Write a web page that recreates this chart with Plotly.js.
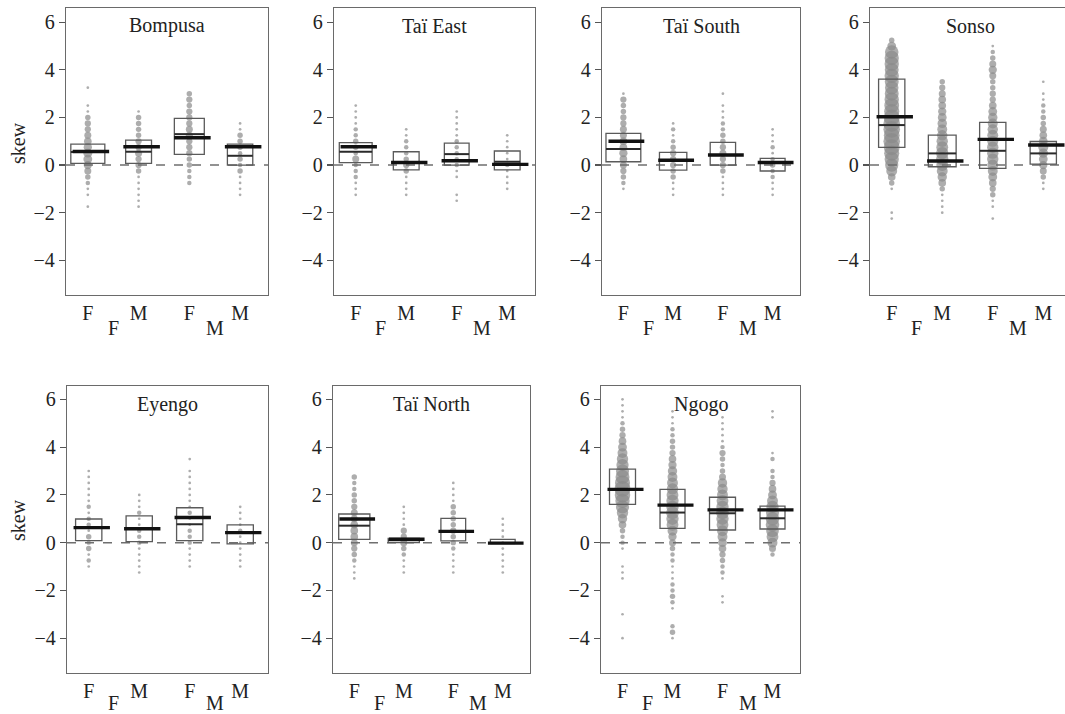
<!DOCTYPE html>
<html><head><meta charset="utf-8">
<script src="https://cdn.plot.ly/plotly-3.0.1.min.js"></script>
<style>html,body{margin:0;padding:0;background:#fff}#chart{width:1065px;height:714px}</style>
</head><body><div id="chart"></div>
<script>
const sites = ['Bompusa', 'Taï East', 'Taï South', 'Sonso', 'Eyengo', 'Taï North', 'Ngogo'];
const tickLabels = ['F', 'M', 'F', 'M'];
const outerLabels = ['F', 'M'];
const yTicks = [-4, -2, 0, 2, 4, 6];
const yTitle = 'skew';

// box lower edge, upper edge, median, mean per site (4 groups each)
const boxLow = [[0.07,0.07,0.45,0.0],[0.1,-0.2,0.0,-0.2],[0.14,-0.21,0.0,-0.25],[0.74,-0.07,-0.14,0.04],[0.08,0.04,0.08,-0.05],[0.14,0.0,0.07,-0.03],[1.6,0.6,0.53,0.57]];
const boxHigh = [[0.88,1.05,1.96,0.88],[0.94,0.56,0.92,0.59],[1.33,0.53,0.95,0.28],[3.61,1.26,1.79,0.99],[0.99,1.12,1.46,0.74],[1.2,0.18,1.02,0.14],[3.08,2.23,1.9,1.53]];
const medians = [[0.55,0.56,1.3,0.39],[0.56,0.1,0.46,0.14],[0.67,0.21,0.42,0.11],[1.68,0.49,0.6,0.49],[0.63,0.57,0.77,0.42],[0.71,0.1,0.46,-0.02],[2.24,1.26,1.23,1.02]];
const means = [[0.57,0.77,1.15,0.77],[0.77,0.11,0.18,0.03],[1.0,0.2,0.42,0.11],[2.03,0.17,1.08,0.84],[0.63,0.58,1.05,0.42],[0.99,0.14,0.47,-0.02],[2.23,1.57,1.37,1.37]];
const boxWidths = [[0.67,0.51,0.59,0.5],[0.65,0.51,0.49,0.51],[0.7,0.55,0.51,0.5],[0.52,0.55,0.52,0.52],[0.52,0.52,0.52,0.52],[0.63,0.63,0.5,0.5],[0.52,0.5,0.52,0.5]];

// dots: [skew value, count] per group (FF, MF, FM, MM)
const dotsBompusa = [
 [[3.25,1],[2.5,1],[2.25,1],[2.0,3],[1.75,4],[1.5,4],[1.25,5],[1.0,6],[0.75,7],[0.5,8],[0.25,8],[0,7],[-0.25,5],[-0.5,3],[-0.75,2],[-1.0,1],[-1.25,1],[-1.75,1]],
 [[2.25,1],[2.0,3],[1.75,3],[1.5,3],[1.25,3],[1.0,4],[0.75,4],[0.5,5],[0.25,4],[0,4],[-0.25,3],[-0.5,1],[-0.75,1],[-1.0,1],[-1.25,1],[-1.5,1],[-1.75,1]],
 [[3.0,3],[2.75,4],[2.5,3],[2.25,4],[2.0,4],[1.75,4],[1.5,5],[1.25,5],[1.0,4],[0.75,4],[0.5,4],[0.25,3],[0,3],[-0.25,2],[-0.5,2],[-0.75,2]],
 [[1.75,1],[1.5,1],[1.25,3],[1.0,3],[0.75,3],[0.5,2],[0.25,3],[0,2],[-0.25,3],[-0.5,1],[-0.75,1],[-1.0,1],[-1.25,1]]
];
const dotsTaiEast = [
 [[2.5,1],[2.25,1],[2.0,1],[1.75,1],[1.5,2],[1.25,2],[1.0,3],[0.75,3],[0.5,2],[0.25,5],[0,2],[-0.25,2],[-0.5,2],[-0.75,1],[-1.0,1],[-1.25,1]],
 [[1.5,1],[1.25,1],[1.0,2],[0.75,2],[0.5,2],[0.25,3],[0,4],[-0.25,3],[-0.5,1],[-0.75,1],[-1.0,1],[-1.25,1]],
 [[2.25,1],[2.0,1],[1.75,1],[1.5,1],[1.25,1],[1.0,2],[0.75,2],[0.5,2],[0.25,2],[0,2],[-0.25,1],[-0.5,1],[-1.25,1],[-1.5,1]],
 [[1.25,1],[1.0,1],[0.75,1],[0.5,1],[0.25,1],[0,2],[-0.25,1],[-0.5,1],[-0.75,1],[-1.0,1]]
];
const dotsTaiSouth = [
 [[3.0,1],[2.75,4],[2.5,3],[2.25,3],[2.0,4],[1.75,4],[1.5,5],[1.25,5],[1.0,6],[0.75,6],[0.5,7],[0.25,6],[0,5],[-0.25,4],[-0.5,3],[-0.75,2],[-1.0,1]],
 [[1.75,1],[1.5,2],[1.25,1],[1.0,2],[0.75,3],[0.5,4],[0.25,4],[0,4],[-0.25,3],[-0.5,3],[-0.75,1],[-1.0,1],[-1.25,1]],
 [[3.0,1],[2.5,1],[2.25,1],[2.0,1],[1.75,2],[1.5,2],[1.25,3],[1.0,3],[0.75,4],[0.5,5],[0.25,4],[0,4],[-0.25,3],[-0.5,1],[-0.75,1],[-1.0,1],[-1.25,1]],
 [[1.5,1],[1.25,1],[1.0,1],[0.75,2],[0.5,1],[0.25,2],[0,3],[-0.25,2],[-0.5,2],[-0.75,1],[-1.0,1],[-1.25,1]]
];
const dotsSonso = [
 [[5.25,3],[5.0,8],[4.75,18],[4.5,20],[4.25,20],[4.0,19],[3.75,20],[3.5,19],[3.25,18],[3.0,19],[2.75,20],[2.5,21],[2.25,22],[2.0,24],[1.75,26],[1.5,26],[1.25,24],[1.0,26],[0.75,24],[0.5,22],[0.25,20],[0,17],[-0.25,12],[-0.5,6],[-0.75,3],[-1.0,1],[-2.0,1],[-2.25,1]],
 [[3.5,3],[3.25,4],[3.0,5],[2.75,6],[2.5,6],[2.25,7],[2.0,8],[1.75,9],[1.5,10],[1.25,11],[1.0,13],[0.75,14],[0.5,15],[0.25,15],[0,14],[-0.25,12],[-0.5,9],[-0.75,6],[-1.0,3],[-1.25,1],[-1.5,1],[-1.75,1],[-2.0,1]],
 [[5.0,1],[4.75,2],[4.5,3],[4.25,5],[4.0,7],[3.75,5],[3.5,3],[3.25,3],[3.0,4],[2.75,4],[2.5,6],[2.25,8],[2.0,9],[1.75,10],[1.5,11],[1.25,12],[1.0,12],[0.75,13],[0.5,13],[0.25,13],[0,12],[-0.25,10],[-0.5,8],[-0.75,6],[-1.0,4],[-1.25,3],[-1.5,1],[-1.75,1],[-2.25,1]],
 [[3.5,1],[3.0,1],[2.75,1],[2.5,2],[2.25,2],[2.0,3],[1.75,3],[1.5,5],[1.25,6],[1.0,8],[0.75,10],[0.5,9],[0.25,8],[0,7],[-0.25,5],[-0.5,3],[-0.75,1],[-1.0,1]]
];
const dotsEyengo = [
 [[3.0,1],[2.75,1],[2.5,1],[2.25,1],[2.0,1],[1.75,1],[1.5,2],[1.25,1],[1.0,2],[0.75,2],[0.5,1],[0.25,3],[0,2],[-0.25,3],[-0.5,1],[-0.75,2],[-1.0,1]],
 [[2.0,1],[1.75,1],[1.5,1],[1.25,2],[1.0,1],[0.75,1],[0.5,2],[0.25,2],[0,2],[-0.25,1],[-0.5,1],[-0.75,1],[-1.0,1],[-1.25,1]],
 [[3.5,1],[3.0,1],[2.75,1],[2.5,1],[2.25,1],[2.0,1],[1.75,1],[1.5,1],[1.25,2],[1.0,1],[0.75,1],[0.5,2],[0.25,2],[0,2],[-0.25,1],[-0.5,1],[-0.75,1],[-1.0,1]],
 [[1.5,1],[1.25,1],[1.0,1],[0.75,1],[0.5,2],[0.25,1],[0,1],[-0.25,1],[-0.5,1],[-0.75,1],[-1.0,1]]
];
const dotsTaiNorth = [
 [[2.75,3],[2.5,2],[2.25,2],[2.0,3],[1.75,3],[1.5,4],[1.25,5],[1.0,5],[0.75,6],[0.5,6],[0.25,6],[0,5],[-0.25,4],[-0.5,3],[-0.75,2],[-1.0,1],[-1.25,1],[-1.5,1]],
 [[1.5,1],[1.25,1],[1.0,1],[0.75,1],[0.5,4],[0.25,4],[0,5],[-0.25,3],[-0.5,2],[-0.75,1],[-1.0,1],[-1.25,1]],
 [[2.5,1],[2.25,1],[2.0,1],[1.75,1],[1.5,3],[1.25,3],[1.0,3],[0.75,3],[0.5,4],[0.25,3],[0,3],[-0.25,2],[-0.5,1],[-0.75,1],[-1.0,1],[-1.25,1]],
 [[1.0,1],[0.75,1],[0.5,1],[0.25,1],[0,1],[-0.25,1],[-0.5,1],[-0.75,1],[-1.0,1],[-1.25,1]]
];
const dotsNgogo = [
 [[6.0,1],[5.75,1],[5.5,1],[5.25,1],[5.0,2],[4.75,3],[4.5,4],[4.25,6],[4.0,8],[3.75,10],[3.5,13],[3.25,15],[3.0,17],[2.75,19],[2.5,22],[2.25,24],[2.0,23],[1.75,20],[1.5,17],[1.25,13],[1.0,9],[0.75,6],[0.5,3],[0.25,2],[0,2],[-0.25,1],[-1.0,1],[-1.25,1],[-1.5,1],[-3.0,1],[-4.0,1]],
 [[5.5,1],[5.25,1],[5.0,1],[4.75,2],[4.5,2],[4.25,3],[4.0,3],[3.75,4],[3.5,6],[3.25,7],[3.0,9],[2.75,10],[2.5,12],[2.25,13],[2.0,14],[1.75,15],[1.5,15],[1.25,16],[1.0,15],[0.75,14],[0.5,10],[0.25,7],[0,5],[-0.25,3],[-0.5,2],[-0.75,2],[-1.0,1],[-1.25,1],[-1.5,1],[-1.75,2],[-2.0,2],[-2.25,3],[-2.5,2],[-2.75,1],[-3.5,2],[-3.75,3],[-4.0,1]],
 [[5.25,1],[5.0,1],[4.75,1],[4.5,1],[4.25,1],[4.0,2],[3.75,4],[3.5,3],[3.25,2],[3.0,3],[2.75,5],[2.5,9],[2.25,11],[2.0,12],[1.75,14],[1.5,15],[1.25,16],[1.0,15],[0.75,14],[0.5,12],[0.25,10],[0,8],[-0.25,6],[-0.5,4],[-0.75,3],[-1.0,2],[-1.25,2],[-1.5,1],[-2.25,1],[-2.5,1]],
 [[5.5,1],[5.25,1],[3.75,1],[3.5,2],[3.0,2],[2.75,2],[2.5,4],[2.25,6],[2.0,8],[1.75,12],[1.5,15],[1.25,17],[1.0,18],[0.75,18],[0.5,16],[0.25,14],[0,10],[-0.25,5],[-0.5,2]]
];
const siteDots = [dotsBompusa, dotsTaiEast, dotsTaiSouth, dotsSonso, dotsEyengo, dotsTaiNorth, dotsNgogo];

// panel placement (pixels) in the 1065 x 714 page
const W = 1065, H = 714;
const panelX = [[66,268],[334,535],[602,800],[870,1065],[67,268],[333,530],[601,800]];
const panelY = [[8,295],[8,295],[8,295],[8,295],[386,673],[386,673],[386,673]];
const xRanges = [[0.57,4.55],[0.57,4.55],[0.57,4.55],[0.57,4.43],[0.57,4.55],[0.57,4.55],[0.57,4.55]];
const yRanges = [[-5.46,6.6],[-5.46,6.6],[-5.46,6.6],[-5.46,6.6],[-5.46,6.56],[-5.46,6.56],[-5.46,6.56]];
const outerLabelOffset = [33,33,33,33,30,30,30];

const serif = 'Liberation Serif, Times New Roman, serif';
const traces = [], shapes = [], annotations = [];
const layout = {
  width: W, height: H, margin: {l:0, r:0, t:0, b:0},
  paper_bgcolor: '#fff', plot_bgcolor: '#fff', showlegend: false,
  font: {family: serif, size: 20, color: '#222'}
};
const dotSize = n => 2.7 + 1.77 * Math.pow(n - 1, 0.64);

sites.forEach((site, i) => {
  const n = i + 1, sfx = n === 1 ? '' : String(n);
  const xa = 'x' + sfx, ya = 'y' + sfx;
  const ph = panelY[i][1] - panelY[i][0];
  layout['xaxis' + sfx] = {
    domain: [panelX[i][0] / W, panelX[i][1] / W], anchor: ya, range: xRanges[i],
    tickvals: [1,2,3,4], ticktext: tickLabels, ticks: '', showgrid: false, zeroline: false,
    showline: true, mirror: true, linecolor: '#6a6a6a', linewidth: 1.2,
    tickfont: {family: serif, size: 20, color: '#222'}, fixedrange: true
  };
  layout['yaxis' + sfx] = {
    domain: [1 - panelY[i][1] / H, 1 - panelY[i][0] / H], anchor: xa, range: yRanges[i],
    tickvals: yTicks, ticks: 'outside', ticklen: 6, tickwidth: 1.2, tickcolor: '#555',
    showgrid: false, zeroline: false, showline: true, mirror: true, linecolor: '#6a6a6a', linewidth: 1.2,
    tickfont: {family: serif, size: 20, color: '#222'}, fixedrange: true
  };
  // dashed zero line
  shapes.push({type: 'line', xref: xa + ' domain', yref: ya, x0: 0, x1: 1, y0: 0, y1: 0,
    line: {color: '#6f6f6f', width: 1.5, dash: 'dash'}});
  siteDots[i].forEach((grp, g) => {
    const gx = g + 1;
    traces.push({
      type: 'scatter', mode: 'markers', xaxis: xa, yaxis: ya, hoverinfo: 'y',
      x: grp.map(() => gx), y: grp.map(d => d[0]),
      marker: {color: '#8a8a8a', size: grp.map(d => dotSize(d[1])), line: {width: 0}}
    });
    const hw = boxWidths[i][g] / 2;
    shapes.push({type: 'rect', xref: xa, yref: ya, x0: gx - hw, x1: gx + hw,
      y0: boxLow[i][g], y1: boxHigh[i][g], line: {color: '#5a5a5a', width: 1.3}, fillcolor: 'rgba(0,0,0,0)'});
    shapes.push({type: 'line', xref: xa, yref: ya, x0: gx - hw, x1: gx + hw,
      y0: medians[i][g], y1: medians[i][g], line: {color: '#2a2a2a', width: 2}});
    shapes.push({type: 'line', xref: xa, yref: ya, x0: gx - 0.3, x1: gx + 0.42,
      y0: means[i][g], y1: means[i][g], line: {color: '#111', width: 3.4}});
  });
  // panel title
  annotations.push({xref: xa, yref: ya + ' domain', x: (xRanges[0][0] + xRanges[0][1]) / 2, y: 1 - 18 / ph,
    yanchor: 'middle', xanchor: 'center', text: site, showarrow: false,
    font: {family: serif, size: 20, color: '#222'}});
  // outer sex labels
  outerLabels.forEach((lab, k) => {
    annotations.push({xref: xa, yref: ya + ' domain', x: 1.5 + 2 * k, y: -outerLabelOffset[i] / ph,
      yanchor: 'middle', xanchor: 'center', text: lab, showarrow: false,
      font: {family: serif, size: 20, color: '#222'}});
  });
});
// y titles on the left column
[143, 520].forEach(py => {
  annotations.push({xref: 'paper', yref: 'paper', x: 18 / W, y: 1 - py / H, xanchor: 'center', yanchor: 'middle',
    text: yTitle, textangle: -90, showarrow: false, font: {family: serif, size: 20, color: '#222'}});
});
layout.shapes = shapes;
layout.annotations = annotations;
Plotly.newPlot('chart', traces, layout, {displayModeBar: false, staticPlot: true});
</script>
</body></html>
